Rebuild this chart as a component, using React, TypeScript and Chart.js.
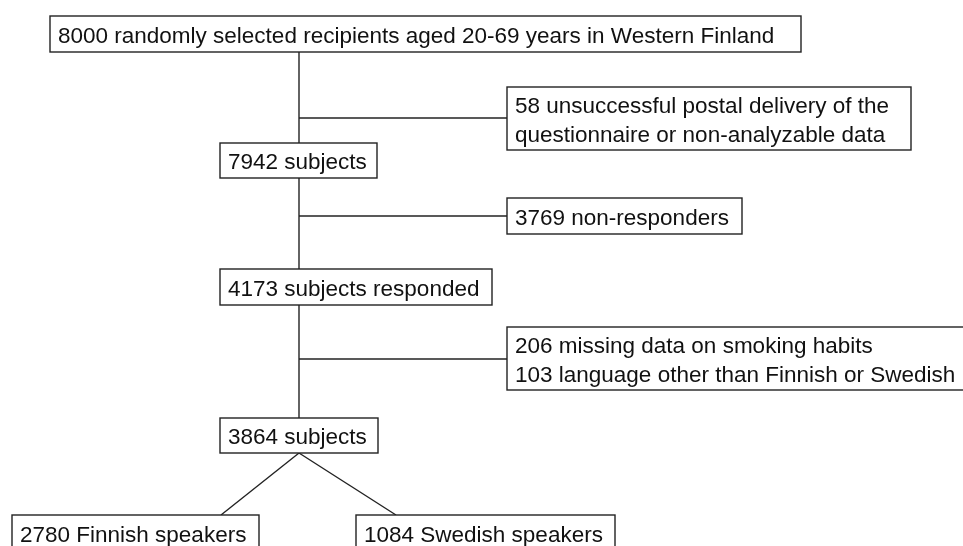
import React, { useEffect, useRef } from "react";
import { Chart, registerables } from "chart.js";

Chart.register(...registerables);

// ---- data ----
const counts = [8000, 58, 7942, 3769, 4173, 206, 103, 3864, 2780, 1084];
const nodeTexts: string[][] = [
  [`${counts[0]} randomly selected recipients aged 20-69 years in Western Finland`],
  [`${counts[1]} unsuccessful postal delivery of the`, "questionnaire or non-analyzable data"],
  [`${counts[2]} subjects`],
  [`${counts[3]} non-responders`],
  [`${counts[4]} subjects responded`],
  [`${counts[5]} missing data on smoking habits`, `${counts[6]} language other than Finnish or Swedish`],
  [`${counts[7]} subjects`],
  [`${counts[8]} Finnish speakers`],
  [`${counts[9]} Swedish speakers`],
];

// ---- layout (in diagram units on the hidden scales) ----
const nodeLeft = [50, 507, 220, 507, 220, 507, 220, 12, 356];
const nodeTop = [16, 87, 143, 198, 269, 327, 418, 515, 515];
const nodeRight = [801, 911, 377, 742, 492, 990, 378, 259, 615];
const nodeBottom = [52, 150, 178, 234, 305, 390, 453, 551, 551];
// connectors: [x1, y1, x2, y2]
const spineX = 299;
const connectors: number[][] = [
  [spineX, 52, spineX, 143],
  [spineX, 118, 507, 118],
  [spineX, 178, spineX, 269],
  [spineX, 216, 507, 216],
  [spineX, 305, spineX, 418],
  [spineX, 359, 507, 359],
  [spineX, 453, 221, 515],
  [spineX, 453, 396, 515],
];

const FONT = "22.5px 'Liberation Sans', Arial, sans-serif";

const flowPlugin = {
  id: "flow",
  afterDraw(chart: any) {
    const { ctx, scales } = chart;
    const xs = scales.x;
    const ys = scales.y;
    const px = (v: number) => xs.getPixelForValue(v);
    const py = (v: number) => ys.getPixelForValue(v);
    ctx.save();
    ctx.strokeStyle = "#222";
    ctx.lineWidth = 1.4;
    connectors.forEach(([x1, y1, x2, y2]) => {
      ctx.beginPath();
      ctx.moveTo(px(x1), py(y1));
      ctx.lineTo(px(x2), py(y2));
      ctx.stroke();
    });
    nodeTexts.forEach((lines, i) => {
      const l = px(nodeLeft[i]);
      const t = py(nodeTop[i]);
      const r = px(nodeRight[i]);
      const b = py(nodeBottom[i]);
      ctx.fillStyle = "#fff";
      ctx.fillRect(l, t, r - l, b - t);
      ctx.strokeStyle = "#222";
      ctx.lineWidth = 1.4;
      ctx.strokeRect(l, t, r - l, b - t);
      ctx.fillStyle = "#111";
      ctx.font = FONT;
      ctx.textAlign = "left";
      ctx.textBaseline = "alphabetic";
      const lineH = 28.5;
      lines.forEach((s, k) => {
        let base: number;
        if (lines.length === 1) {
          base = t + Math.min(b - t, 36) / 2 + 8.5;
        } else {
          base = t + 26 + k * lineH;
        }
        ctx.fillText(s, l + 8, base);
      });
    });
    ctx.restore();
  },
};

export default function App() {
  const ref = useRef<HTMLCanvasElement | null>(null);
  useEffect(() => {
    document.body.style.margin = "0";
    const canvas = ref.current!;
    const chart = new Chart(canvas, {
      type: "scatter",
      data: {
        datasets: [
          {
            label: "nodes",
            data: nodeTexts.map((_, i) => ({
              x: (nodeLeft[i] + nodeRight[i]) / 2,
              y: (nodeTop[i] + nodeBottom[i]) / 2,
            })),
            pointRadius: 0,
            showLine: false,
          },
        ],
      },
      options: {
        responsive: false,
        animation: false,
        events: [],
        layout: { padding: 0 },
        plugins: { legend: { display: false }, tooltip: { enabled: false } },
        scales: {
          x: { type: "linear", min: 0, max: 963, display: false },
          y: { type: "linear", min: 0, max: 546, reverse: true, display: false },
        },
      },
      plugins: [flowPlugin],
    });
    return () => chart.destroy();
  }, []);
  return (
    <div style={{ width: 963, height: 546, background: "#fff" }}>
      <canvas ref={ref} width={963} height={546} style={{ display: "block" }} />
    </div>
  );
}
